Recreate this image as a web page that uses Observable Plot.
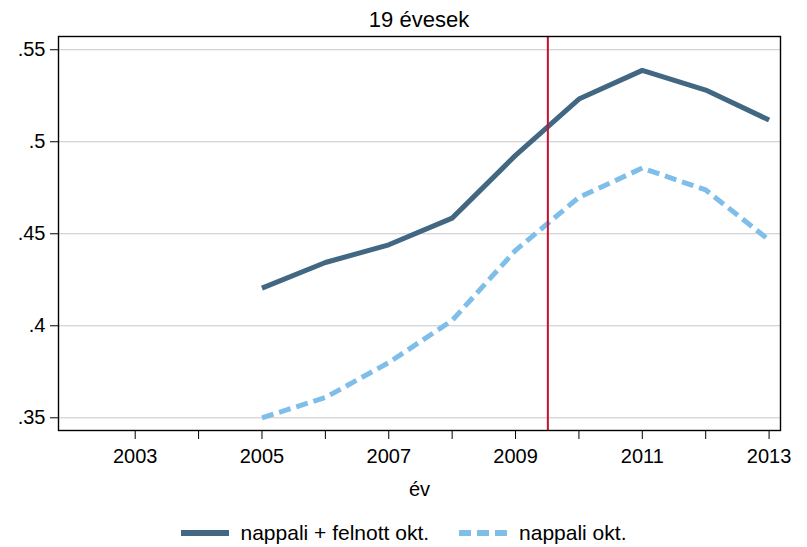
<!DOCTYPE html>
<html>
<head>
<meta charset="utf-8">
<script src="https://cdn.jsdelivr.net/npm/d3@7"></script>
<script src="https://cdn.jsdelivr.net/npm/@observablehq/plot@0.6"></script>
<style>
  html, body { margin: 0; padding: 0; background: #fff; }
  body { width: 807px; height: 547px; overflow: hidden; font-family: "Liberation Sans", Arial, sans-serif; color: #000; }
  #title { box-sizing: border-box; height: 30px; padding: 10px 27px 0 58px; line-height: 20px; font-size: 22px; text-align: center; white-space: nowrap; }
  #chart svg { display: block; }
  #legend { height: 42px; display: flex; justify-content: center; align-items: center; padding-top: 14px; box-sizing: border-box; font-size: 21px; }
  .item { display: flex; align-items: center; }
  .item svg { display: block; margin-right: 12px; }
  .item + .item { margin-left: 30px; }
</style>
</head>
<body>
<div id="title"></div>
<div id="chart"></div>
<div id="legend"></div>
<script>
const titleText = "19 évesek";
const xLabel = "év";
const years = [2005, 2006, 2007, 2008, 2009, 2010, 2011, 2012, 2013];
const seriesNames = ["nappali + felnott okt.", "nappali okt."];
const felnott = [0.4205, 0.4344, 0.444, 0.4585, 0.4926, 0.5232, 0.5388, 0.5281, 0.5118];
const nappali = [0.350, 0.361, 0.380, 0.4029, 0.441, 0.4698, 0.4857, 0.4738, 0.4466];
const xTicks = [2003, 2004, 2005, 2006, 2007, 2008, 2009, 2010, 2011, 2012, 2013];
const yTicks = [0.35, 0.40, 0.45, 0.50, 0.55];
const reformYear = [2009.51];
const xDomain = [2001.79, 2013.18];
const yDomain = [0.3431, 0.5572];

const colors = ["#426782", "#7FBEE9"];
const dashes = [null, "12,6"];
const seriesValues = [felnott, nappali];

const data = [];
seriesNames.forEach((name, i) => {
  years.forEach((yr, j) => data.push({series: name, year: yr, value: seriesValues[i][j]}));
});

document.getElementById("title").textContent = titleText;

const fmtY = d => d3.format(".2~f")(d).replace(/^0/, "");

const plot = Plot.plot({
  width: 807,
  height: 475,
  marginTop: 6,
  marginLeft: 58,
  marginRight: 27,
  marginBottom: 75,
  style: {fontFamily: "Liberation Sans, Arial, sans-serif", fontSize: "20px", color: "#000", background: "#fff"},
  x: {domain: xDomain},
  y: {domain: yDomain},
  marks: [
    Plot.gridY(yTicks, {stroke: "#c8c8c8", strokeOpacity: 1, strokeWidth: 1}),
    Plot.axisY(yTicks, {tickSize: 8, tickPadding: 5, tickFormat: fmtY, fontSize: 20, label: null, stroke: "#000"}),
    Plot.axisX(xTicks, {tickSize: 9, tickPadding: 9, tickFormat: d => d % 2 ? String(d) : "", fontSize: 20, label: null, stroke: "#000"}),
    Plot.text([xLabel], {frameAnchor: "bottom", dy: 59, lineAnchor: "middle", fontSize: 20, fill: "#000"}),
    ...seriesNames.map((name, i) => Plot.line(data.filter(d => d.series === name), {
      x: "year", y: "value", stroke: colors[i], strokeWidth: 5,
      strokeDasharray: dashes[i] || undefined, strokeLinejoin: "miter", strokeLinecap: "butt"
    })),
    Plot.ruleX(reformYear, {stroke: "#C8102E", strokeWidth: 2}),
    Plot.frame({stroke: "#000", strokeWidth: 1.4})
  ]
});
document.getElementById("chart").appendChild(plot);

const legend = document.getElementById("legend");
seriesNames.forEach((name, i) => {
  const item = document.createElement("div");
  item.className = "item";
  const ns = "http://www.w3.org/2000/svg";
  const svg = document.createElementNS(ns, "svg");
  svg.setAttribute("width", 48);
  svg.setAttribute("height", 8);
  const ln = document.createElementNS(ns, "line");
  ln.setAttribute("x1", 0); ln.setAttribute("x2", 48);
  ln.setAttribute("y1", 4); ln.setAttribute("y2", 4);
  ln.setAttribute("stroke", colors[i]);
  ln.setAttribute("stroke-width", 6);
  if (dashes[i]) ln.setAttribute("stroke-dasharray", dashes[i]);
  svg.appendChild(ln);
  const label = document.createElement("span");
  label.textContent = name;
  item.appendChild(svg);
  item.appendChild(label);
  legend.appendChild(item);
});
</script>
</body>
</html>
